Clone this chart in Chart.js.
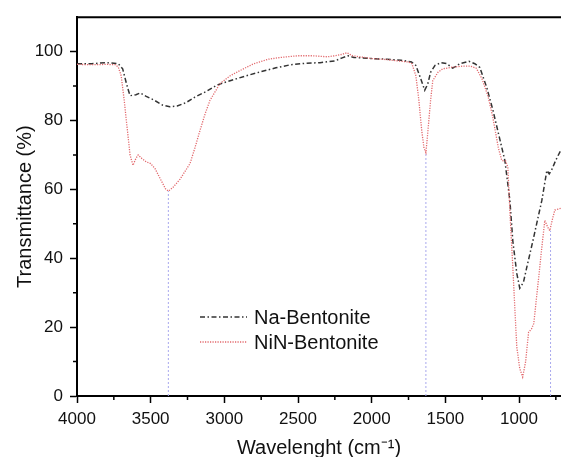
<!DOCTYPE html>
<html>
<head>
<meta charset="utf-8">
<script src="https://cdn.jsdelivr.net/npm/chart.js@4.4.0/dist/chart.umd.min.js"></script>
<style>
  html, body { margin: 0; padding: 0; background: #fff; }
</style>
</head>
<body>
<canvas id="ftir" width="561" height="457"></canvas>
<script>
// Na-Bentonite spectrum
const naWave = [4000, 3900, 3800, 3720, 3690, 3660, 3640, 3600, 3570, 3530, 3480, 3420, 3370, 3320, 3260,
    3200, 3120, 3050, 2950, 2850, 2750, 2650, 2550, 2450, 2350, 2250, 2200, 2160, 2120, 2080, 2000, 1900,
    1800, 1730, 1700, 1670, 1640, 1620, 1600, 1570, 1530, 1490, 1450, 1400, 1340, 1300, 1266, 1219, 1177,
    1130, 1096, 1062, 1042, 1015, 995, 970, 947, 906, 870, 845, 811, 795, 780, 750, 715];
const naTrans = [96.5, 96.5, 96.8, 96.5, 95, 90, 87.2, 87.5, 88, 87, 86, 84.5, 84, 84.2, 85.2,
    86.8, 88.5, 90.3, 91.7, 93, 94.2, 95.3, 96.2, 96.6, 96.8, 97.3, 98.2, 98.8, 98.3, 98.2, 98, 97.8,
    97.5, 97, 96, 92.5, 88.8, 90.5, 94, 96, 96.8, 96.5, 95.2, 96.5, 97.2, 96.5, 95.4, 89.6, 83,
    74.5, 68.4, 56.8, 45, 35.6, 31.3, 33, 37.4, 45, 52, 56.8, 65.5, 64.5, 65.5, 68.5, 71.5];

// NiN-Bentonite spectrum
const ninWave = [4000, 3900, 3800, 3740, 3720, 3700, 3680, 3660, 3640, 3620, 3600, 3585, 3560, 3530, 3500,
    3470, 3440, 3400, 3380, 3350, 3300, 3233, 3200, 3166, 3130, 3098, 3030, 2960, 2894, 2800, 2700, 2623,
    2500, 2400, 2300, 2250, 2200, 2168, 2130, 2080, 2000, 1900, 1800, 1750, 1727, 1700, 1680, 1660, 1645,
    1632, 1620, 1600, 1585, 1550, 1517, 1450, 1380, 1330, 1290, 1250, 1210, 1178, 1140, 1117, 1090, 1076,
    1060, 1042, 1015, 995, 975, 955, 935, 915, 900, 870, 845, 825, 805, 791, 775, 757, 715];
const ninTrans = [96.3, 96.2, 96.3, 96.2, 95.5, 93, 86, 78, 70, 67, 69, 70, 69, 68, 67.5,
    66, 63.5, 60.2, 59.5, 60.5, 63, 67.5, 72, 77, 82, 85.8, 90.7, 93, 94.5, 96.5, 97.8, 98.3,
    98.8, 98.8, 98.5, 98.8, 99.2, 99.7, 98.8, 98.5, 98, 97.7, 97.2, 97, 96.5, 93, 86, 77, 72,
    70.7, 76, 86, 91.6, 94, 95, 95.5, 95.8, 95.8, 95.2, 92, 87, 81, 72, 68.4, 68.2, 66.4,
    52, 37.4, 14.2, 8, 5.5, 10, 18.5, 19.5, 21, 33, 43.2, 51, 49, 48, 51, 54, 54.5];

// band markers (dotted drop lines)
const markWave = [3380, 1632, 786];
const markTop = [59.5, 70.7, 48];

const xTickLabels = [4000, 3500, 3000, 2500, 2000, 1500, 1000];
const xMinorTicks = [3750, 3250, 2750, 2250, 1750, 1250, 750];
const yTickLabels = [0, 20, 40, 60, 80, 100];
const yMinorTicks = [10, 30, 50, 70, 90];

const FONT = "'Liberation Sans', Arial, sans-serif";

const toPoints = (xs, ys) => xs.map((x, i) => ({ x, y: ys[i] }));

const markSets = markWave.map((w, i) => ({
    label: "",
    isMark: true,
    data: [{ x: w, y: 0 }, { x: w, y: markTop[i] }],
    borderColor: "#a9a9ee",
    borderWidth: 1,
    borderDash: [2, 2],
    pointRadius: 0,
    order: 3
}));

const framePlugin = {
    id: "frame",
    afterDraw(chart) {
        const ctx = chart.ctx;
        const area = chart.chartArea;
        const xs = chart.scales.x;
        const ys = chart.scales.y;
        ctx.save();
        // top border
        ctx.strokeStyle = "#000";
        ctx.lineWidth = 2;
        ctx.beginPath();
        ctx.moveTo(area.left - 1, area.top);
        ctx.lineTo(area.right, area.top);
        ctx.stroke();
        // minor ticks
        ctx.lineWidth = 1.5;
        ctx.beginPath();
        xMinorTicks.forEach(v => {
            const px = xs.getPixelForValue(v);
            ctx.moveTo(px, area.bottom);
            ctx.lineTo(px, area.bottom + 4);
        });
        yMinorTicks.forEach(v => {
            const py = ys.getPixelForValue(v);
            ctx.moveTo(area.left, py);
            ctx.lineTo(area.left - 4, py);
        });
        ctx.stroke();

        // legend
        const legendX = 200, legendY = 317, rowGap = 25;
        chart.data.datasets.filter(d => !d.isMark).forEach((d, i) => {
            const y = legendY + i * rowGap;
            ctx.strokeStyle = d.borderColor;
            ctx.lineWidth = d.borderWidth;
            ctx.setLineDash(d.borderDash);
            ctx.beginPath();
            ctx.moveTo(legendX, y);
            ctx.lineTo(legendX + 47, y);
            ctx.stroke();
            ctx.setLineDash([]);
            ctx.fillStyle = "#111";
            ctx.font = "20px " + FONT;
            ctx.textBaseline = "middle";
            ctx.fillText(d.label, legendX + 54, y + 1);
        });
        ctx.restore();
    }
};

new Chart(document.getElementById("ftir"), {
    type: "line",
    data: {
        datasets: [
            ...markSets,
            {
                label: "Na-Bentonite",
                data: toPoints(naWave, naTrans),
                borderColor: "#333333",
                borderWidth: 1.5,
                borderDash: [5, 2.5, 1.5, 2.5],
                pointRadius: 0,
                order: 2
            },
            {
                label: "NiN-Bentonite",
                data: toPoints(ninWave, ninTrans),
                borderColor: "#e2686c",
                borderWidth: 1.3,
                borderDash: [1.2, 1.3],
                pointRadius: 0,
                order: 1
            }
        ]
    },
    options: {
        responsive: false,
        animation: false,
        layout: { padding: { top: 15, right: 0, left: 0, bottom: 0 } },
        plugins: {
            legend: { display: false },
            tooltip: { enabled: false }
        },
        scales: {
            x: {
                type: "linear",
                reverse: true,
                min: 715,
                max: 4000,
                afterBuildTicks: s => { s.ticks = xTickLabels.map(v => ({ value: v })); },
                afterFit: s => { s.height = 61; },
                border: { display: true, color: "#000", width: 2 },
                grid: { display: true, drawOnChartArea: false, tickLength: 7, tickColor: "#000", tickWidth: 1.5 },
                ticks: {
                    color: "#111",
                    padding: 6,
                    maxRotation: 0,
                    font: { family: FONT, size: 17 },
                    callback: v => String(v)
                },
                title: {
                    display: true,
                    text: "Wavelenght (cm\u207B\u00B9)",
                    color: "#111",
                    padding: { top: 0, bottom: -3 },
                    font: { family: FONT, size: 20 }
                }
            },
            y: {
                min: 0,
                max: 110,
                afterBuildTicks: s => { s.ticks = yTickLabels.map(v => ({ value: v })); },
                afterFit: s => { s.width = 77; },
                border: { display: true, color: "#000", width: 2 },
                grid: { display: true, drawOnChartArea: false, tickLength: 7, tickColor: "#000", tickWidth: 1.5 },
                ticks: {
                    color: "#111",
                    padding: 7,
                    font: { family: FONT, size: 17 },
                    callback: v => String(v)
                },
                title: {
                    display: true,
                    text: "Transmittance (%)",
                    color: "#111",
                    padding: { top: 13, bottom: 0 },
                    font: { family: FONT, size: 20 }
                }
            }
        }
    },
    plugins: [framePlugin]
});
</script>
</body>
</html>
